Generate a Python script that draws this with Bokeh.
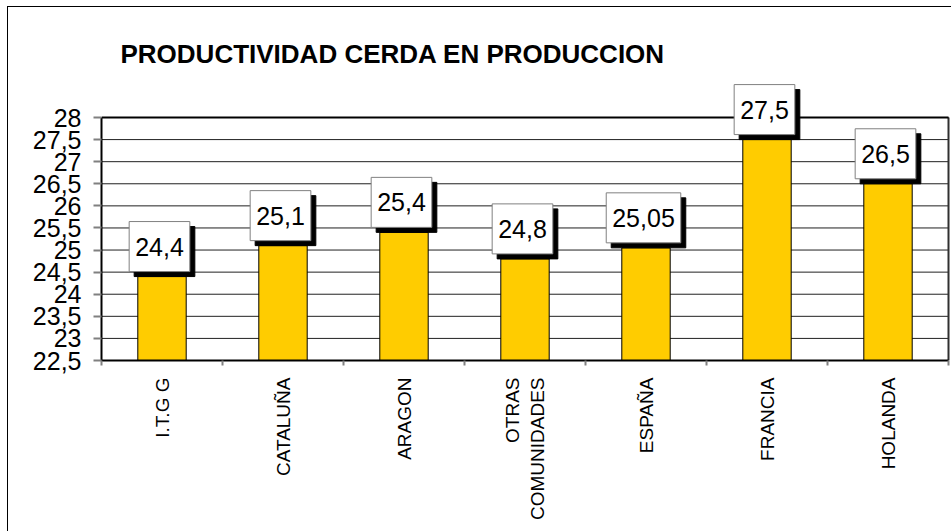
import math
from bokeh.plotting import figure
from bokeh.models import Range1d, FixedTicker, Label
from bokeh.embed import file_html
from bokeh.resources import INLINE

# ---- data ----
categories = ["I.T.G G", "CATALUÑA", "ARAGON", "OTRAS\nCOMUNIDADES", "ESPAÑA", "FRANCIA", "HOLANDA"]
values = [24.4, 25.1, 25.4, 24.8, 25.05, 27.5, 26.5]
value_labels = ["24,4", "25,1", "25,4", "24,8", "25,05", "27,5", "26,5"]
ytick_values = [22.5, 23.0, 23.5, 24.0, 24.5, 25.0, 25.5, 26.0, 26.5, 27.0, 27.5, 28.0]
ytick_labels = ["22,5", "23", "23,5", "24", "24,5", "25", "25,5", "26", "26,5", "27", "27,5", "28"]
title_text = "PRODUCTIVIDAD CERDA EN PRODUCCION"

FONT = "Liberation Sans"
n = len(categories)
xs = [i + 0.5 for i in range(n)]
bounds = [float(i) for i in range(n + 1)]
ymin, ymax = ytick_values[0], ytick_values[-1]

# layout: plot area 847 x 243 px; ranges extended so labels/title above the top line are not clipped
px_per_y = 243 / (ymax - ymin)
px_per_x = 847 / n
y_top = ymax + 110 / px_per_y
x_right = n + 4 / px_per_x

p = figure(width=944, height=525,
           x_range=Range1d(0, x_right), y_range=Range1d(ymin, y_top),
           output_backend="svg", toolbar_location=None,
           min_border_left=93, min_border_right=0, min_border_top=0, min_border_bottom=172)
p.styles = {"margin-left": "8px", "margin-top": "7px", "box-shadow": "-1px -1px 0 0 black"}
p.background_fill_color = "white"
p.border_fill_color = "white"
p.outline_line_color = None

# grid lines and plot-area border
p.segment(x0=[0] * len(ytick_values), x1=[n] * len(ytick_values), y0=ytick_values, y1=ytick_values,
          line_color="#202020", line_width=1)
p.segment(x0=[n], x1=[n], y0=[ymin], y1=[ymax], line_color="#303030", line_width=2)
p.segment(x0=[0], x1=[n], y0=[ymax], y1=[ymax], line_color="black", line_width=2)

# bars
p.vbar(x=xs, top=values, bottom=ymin, width=0.4,
       fill_color="#FFCC00", line_color="black", line_width=1)

# x axis
xa = p.xaxis[0]
xa.bounds = (0, n)
xa.ticker = FixedTicker(ticks=xs, minor_ticks=bounds)
xa.major_label_overrides = {x: c for x, c in zip(xs, categories)}
xa.major_tick_out = 0
xa.major_tick_in = 0
xa.minor_tick_out = 5
xa.minor_tick_in = 0
xa.minor_tick_line_color = "#808080"
xa.minor_tick_line_width = 2
xa.axis_line_color = "black"
xa.axis_line_width = 2
xa.major_label_orientation = math.pi / 2
xa.major_label_text_font = FONT
xa.major_label_text_font_size = "19px"
xa.major_label_text_color = "black"
xa.major_label_standoff = 12
p.xgrid.visible = False
p.ygrid.visible = False

# y axis
ya = p.yaxis[0]
ya.bounds = (ymin, ymax)
ya.ticker = FixedTicker(ticks=ytick_values)
ya.major_label_overrides = {v: s for v, s in zip(ytick_values, ytick_labels)}
ya.major_tick_out = 8
ya.major_tick_in = 0
ya.minor_tick_out = 0
ya.minor_tick_in = 0
ya.axis_line_color = "black"
ya.axis_line_width = 2
ya.major_tick_line_color = "#808080"
ya.major_tick_line_width = 2
ya.major_label_text_font = FONT
ya.major_label_text_font_size = "25px"
ya.major_label_text_color = "black"
ya.major_label_standoff = 12

# value labels: shadow + white box
for x, v, t in zip(xs, values, value_labels):
    shadow = Label(x=x, y=v, x_offset=2.5, y_offset=0, text=t, anchor="bottom_center",
                   text_font=FONT, text_font_size="25px", text_color="black",
                   background_fill_color="black", border_line_color="black",
                   padding=(6, 16))
    box = Label(x=x, y=v, x_offset=-2.5, y_offset=5, text=t, anchor="bottom_center",
                text_font=FONT, text_font_size="25px", text_color="black",
                background_fill_color="white", border_line_color="#808080",
                border_line_width=1, padding=(6, 16))
    p.add_layout(shadow)
    p.add_layout(box)

# title
p.add_layout(Label(x=0, y=ymax, x_offset=19, y_offset=64, text=title_text,
                   text_font=FONT, text_font_size="26px", text_font_style="bold",
                   text_color="black", text_baseline="alphabetic", text_align="left"))

open("out.html", "w").write(file_html(p, INLINE))
